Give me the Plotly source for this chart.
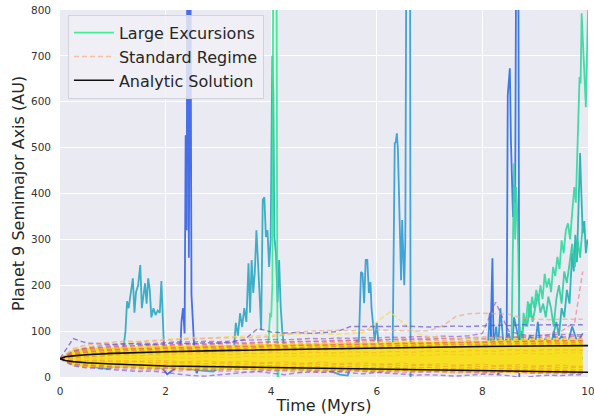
import plotly.graph_objects as go

# ---------------------------------------------------------------- time grids
T = [0, 0.25, 0.5, 0.75, 1, 1.25, 1.5, 1.75, 2, 2.25, 2.5, 2.75, 3, 3.25, 3.5,
     3.75, 4, 4.25, 4.5, 4.75, 5, 5.25, 5.5, 5.75, 6, 6.25, 6.5, 6.75, 7, 7.25,
     7.5, 7.75, 8, 8.25, 8.5, 8.75, 9, 9.25, 9.5, 9.75, 9.9]

# ------------------------------------------------ large-excursion trajectories
exc_a_t = [0, 0.3, 0.6, 0.9, 1.2, 1.5, 1.8, 1.95, 2.03, 2.1,
           2.2, 2.27, 2.3, 2.33, 2.36, 2.38, 2.4, 2.41, 2.43, 2.44,
           2.46, 2.47, 2.49, 2.51, 2.53, 2.56, 2.59, 2.62, 2.66, 2.75,
           3, 3.5, 4, 5, 6, 7, 8, 9, 9.9]
exc_a_v = [40, 32, 28, 25, 30, 26, 22, 18, 6, 12,
           20, 30, 120, 150, 95, 527, 320, 950, 950, 260,
           950, 950, 180, 130, 100, 25, 8, 20, 40, 35,
           30, 36, 33, 38, 35, 40, 36, 42, 40]

exc_b_t = [0, 0.3, 0.6, 0.9, 1.1, 1.2, 1.24, 1.27, 1.3, 1.34,
           1.38, 1.41, 1.44, 1.48, 1.52, 1.55, 1.58, 1.61, 1.64, 1.67,
           1.7, 1.73, 1.77, 1.81, 1.85, 1.89, 1.92, 1.94, 1.97, 2.05,
           2.3, 2.6, 2.9, 3.1, 3.25, 3.3, 3.33, 3.37, 3.41, 3.45,
           3.49, 3.53, 3.57, 3.6, 3.63, 3.66, 3.69, 3.72, 3.75, 3.78,
           3.81, 3.84, 3.87, 3.9, 3.93, 3.96, 3.99, 4.02, 4.04, 4.06,
           4.09, 4.12, 4.15, 4.18, 4.21, 4.25, 4.4, 5, 6, 7,
           8, 9, 9.9]
exc_b_v = [40, 30, 22, 18, 25, 60, 100, 165, 150, 178,
           215, 140, 185, 200, 244, 150, 175, 204, 160, 215,
           190, 130, 150, 135, 145, 140, 209, 150, 60, 35,
           20, 15, 12, 25, 40, 70, 118, 90, 139, 109,
           150, 120, 248, 140, 255, 183, 230, 320, 261, 180,
           102, 386, 392, 305, 320, 240, 300, 700, 620, 305,
           270, 163, 255, 153, 100, 60, 40, 35, 30, 45,
           40, 38, 42]

exc_g_t = [0, 0.5, 1, 1.5, 2, 2.5, 3, 3.5, 3.8, 3.9,
           3.95, 3.98, 4.0, 4.02, 4.04, 4.06, 4.08, 4.1, 4.12, 4.14,
           4.2, 4.5, 5, 6, 7, 8, 9, 9.9]
exc_g_v = [40, 45, 50, 48, 52, 55, 50, 53, 58, 62,
           80, 140, 130, 200, 950, 950, 950, 950, -30, 20,
           45, 50, 55, 52, 58, 55, 60, 58]

exc_c_t = [0, 0.5, 1, 1.5, 2, 2.5, 3, 3.5, 4, 4.5,
           5, 5.3, 5.45, 5.55, 5.62, 5.66, 5.7, 5.73, 5.76, 5.79,
           5.82, 5.85, 5.88, 5.9, 5.93, 5.96, 6.0, 6.04, 6.1, 6.2,
           6.3, 6.34, 6.36, 6.38, 6.4, 6.42, 6.44, 6.46, 6.48, 6.5,
           6.52, 6.54, 6.56, 6.6, 6.63, 6.64]
exc_c_v = [40, 35, 30, 28, 25, 22, 24, 20, 25, 22,
           18, 5, 3, 40, 80, 75, 229, 226, 161, 255,
           255, 183, 207, 150, 109, 80, 118, 60, 50, 45,
           55, 510, 512, 531, 495, 412, 349, 211, 342, 248,
           200, 300, 950, 950, 950, -30]

exc_d_t = [0, 0.5, 1, 1.5, 2, 2.5, 3, 3.5, 4, 4.5,
           5, 5.5, 6, 6.5, 7, 7.5, 8, 8.15, 8.19, 8.21,
           8.23, 8.3, 8.4, 8.46, 8.48, 8.5, 8.52, 8.54, 8.56, 8.58,
           8.6, 8.62, 8.64, 8.66, 8.68, 8.7]
exc_d_v = [40, 45, 42, 48, 50, 46, 52, 49, 55, 51,
           56, 53, 58, 55, 60, 57, 62, 65, 259, 70,
           60, 5, 45, 80, 614, 654, 673, 516, 386, 349,
           420, 380, 950, 950, 950, -30]

exc_h_t = [0, 2, 4, 6, 7.5, 8.1, 8.14, 8.17, 8.2, 8.26,
           8.3, 8.34, 8.4, 8.5, 8.56, 8.6, 8.7, 8.75, 8.8, 8.9,
           9.0, 9.05, 9.1, 9.2, 9.3, 9.35, 9.4, 9.5, 9.6, 9.7,
           9.8, 9.9]
exc_h_v = [40, 35, 38, 42, 50, 60, 140, 80, 60, 110,
           65, 150, 70, 95, 60, 130, 75, 100, 60, 90,
           70, 120, 65, 85, 60, 100, 70, 90, 65, 110,
           75, 95]

exc_e_t = [0, 1, 2, 3, 4, 5, 6, 7, 8, 8.4,
           8.55, 8.6, 8.62, 8.64, 8.66, 8.68, 8.7,
           8.74, 8.78, 8.82, 8.86, 8.9, 8.94, 8.98, 9.02, 9.06, 9.1,
           9.14, 9.18, 9.22, 9.26, 9.3, 9.34, 9.38, 9.42, 9.46, 9.5,
           9.54, 9.58, 9.62, 9.66, 9.7, 9.74, 9.77, 9.8, 9.82, 9.84,
           9.86, 9.88, 9.9, 9.92, 9.94, 9.96, 9.98, 10]
exc_e_v = [40, 45, 38, 50, 44, 55, 48, 52, 58, 62,
           60, 466, 300, 414, 357, 270, 120,
           60, 140, 110, 165, 130, 175, 150, 190, 165, 200,
           170, 225, 195, 215, 185, 240, 220, 262, 235, 298,
           270, 320, 335, 300, 360, 414, 380, 501, 560, 654,
           640, 793, 740, 690, 620, 588, 700, 800]

exc_e2_t = [0, 2, 4, 6, 8, 8.6, 8.7, 8.75, 8.8, 8.85,
            8.9, 8.95, 9.0, 9.05, 9.1, 9.15, 9.2, 9.25, 9.3, 9.35,
            9.4, 9.45, 9.5, 9.55, 9.6, 9.65, 9.7, 9.75, 9.8, 9.85,
            9.9]
exc_e2_v = [40, 45, 42, 48, 55, 60, 100, 90, 130, 110,
            160, 120, 150, 180, 140, 160, 130, 175, 150, 110,
            170, 200, 160, 230, 205, 250, 290, 240, 300, 260,
            330]

exc_f_t = [0, 1, 2, 3, 4, 5, 6, 7, 8, 9,
           9.3, 9.4, 9.45, 9.5, 9.55, 9.6, 9.65, 9.7, 9.73, 9.76,
           9.79, 9.82, 9.85, 9.87, 9.9, 9.93, 9.96, 9.99]
exc_f_v = [40, 38, 45, 42, 48, 44, 50, 47, 52, 55,
           70, 120, 90, 150, 130, 190, 160, 270, 230, 310,
           250, 386, 488, 414, 313, 340, 270, 300]

# ------------------------------------------------ standard-regime trajectories
band_hi = [41, 60, 63, 65, 65, 66, 67, 67, 68, 68, 69, 69, 70, 70, 71, 71, 72,
           72, 72, 73, 73, 74, 74, 75, 75, 76, 76, 77, 77, 78, 78, 79, 79, 80,
           80, 81, 81, 81, 82, 82, 82]
band_lo = [39, 24, 22, 21, 20, 19, 19, 18, 18, 17, 17, 16, 16, 16, 15, 15, 15,
           14, 14, 14, 13, 13, 13, 12, 12, 12, 11, 11, 11, 10, 10, 10, 9, 9, 9,
           8, 8, 8, 7, 7, 7]

std_purple_a = [40, 84, 74, 72, 71, 73, 72, 70, 73, 74, 72, 75, 74, 76, 82, 106,
                98, 96, 97, 95, 97, 99, 110, 110, 109, 110, 111, 110, 109, 110,
                111, 110, 112, 113, 112, 114, 113, 114, 113, 114, 114]
std_salmon = [40, 62, 70, 74, 76, 78, 77, 79, 80, 82, 83, 84, 85, 86, 85, 87,
              88, 92, 98, 100, 101, 102, 101, 102, 103, 102, 101, 100, 101, 112,
              132, 138, 139, 138, 137, 128, 126, 125, 126, 127, 126]
std_yellow = [40, 60, 66, 70, 72, 74, 78, 80, 82, 84, 86, 85, 87, 88, 89, 90,
              92, 93, 94, 95, 94, 93, 95, 97, 120, 142, 118, 95, 88, 86, 85, 84,
              86, 85, 84, 83, 82, 84, 83, 82, 82]
std_purple_b = [40, 58, 64, 68, 70, 72, 74, 73, 75, 77, 76, 78, 77, 79, 80, 81,
                82, 81, 83, 84, 83, 85, 84, 86, 85, 87, 86, 88, 87, 89, 88, 90,
                95, 163, 100, 92, 90, 91, 93, 92, 92]
std_magenta = [40, 56, 62, 65, 67, 68, 70, 71, 70, 72, 73, 72, 74, 75, 74, 76,
               77, 76, 78, 77, 79, 80, 79, 81, 80, 82, 81, 83, 82, 84, 83, 85,
               84, 86, 85, 87, 86, 88, 87, 89, 88]
std_pink = [40, 55, 60, 63, 66, 67, 68, 70, 69, 71, 72, 71, 73, 74, 73, 75, 76,
            75, 77, 78, 77, 79, 80, 81, 80, 82, 83, 82, 84, 85, 84, 86, 87, 88,
            87, 89, 90, 92, 100, 120, 230]
std_orange_a = [40, 54, 58, 61, 63, 65, 66, 65, 67, 68, 67, 69, 70, 69, 71, 72,
                71, 73, 74, 73, 75, 76, 75, 77, 78, 77, 79, 78, 80, 79, 81, 80,
                82, 81, 83, 82, 84, 83, 85, 84, 84]
std_orange_b = [40, 52, 56, 59, 60, 62, 61, 63, 64, 63, 65, 66, 65, 67, 66, 68,
                69, 68, 70, 69, 71, 70, 72, 71, 73, 72, 74, 73, 75, 74, 76, 75,
                77, 76, 78, 77, 79, 78, 80, 79, 79]
std_red_a = [40, 50, 54, 57, 59, 60, 62, 61, 63, 64, 63, 65, 66, 65, 67, 66, 68,
             67, 69, 70, 69, 71, 70, 72, 71, 73, 72, 74, 73, 75, 74, 76, 75, 77,
             76, 78, 77, 79, 78, 80, 80]
std_red_b = [40, 46, 50, 53, 55, 57, 58, 59, 58, 60, 61, 60, 62, 61, 63, 64, 63,
             65, 64, 66, 65, 67, 66, 68, 67, 69, 68, 70, 69, 71, 70, 72, 71, 73,
             72, 74, 73, 75, 74, 76, 76]
std_orange_c = [40, 42, 44, 47, 49, 50, 52, 51, 53, 54, 53, 55, 56, 55, 57, 58,
                57, 59, 58, 60, 59, 61, 60, 62, 61, 63, 62, 64, 63, 65, 64, 66,
                65, 67, 66, 68, 67, 69, 68, 70, 70]
std_orange_d = [40, 38, 36, 37, 35, 36, 34, 35, 36, 33, 34, 35, 32, 33, 34, 31,
                32, 33, 30, 31, 32, 29, 30, 31, 28, 29, 30, 27, 28, 29, 26, 27,
                28, 25, 26, 27, 24, 25, 26, 23, 23]
std_low_purple = [40, 24, 20, 18, 16, 14, 12, 13, 10, 6, 3, 2, 5, 8, 10, 12, 8,
                  5, 9, 11, 10, 12, 9, 7, 10, 8, 6, 4, 5, 3, 2, 4, 6, 5, 3, -2,
                  2, 4, 3, 5, 5]
std_low_pink = [40, 26, 22, 20, 18, 17, 15, 16, 14, 13, 15, 14, 12, 13, 11, 12,
                14, 13, 11, 12, 10, 11, 13, 12, 10, 11, 9, 10, 12, 11, 9, 10, 8,
                9, 11, 10, 8, 9, 7, 8, 8]
std_low_magenta = [40, 28, 25, 23, 21, 20, 19, 18, 19, 17, 16, 17, 15, 16, 17,
                   15, 14, 15, 16, 14, 13, 14, 15, 13, 12, 13, 14, 12, 11, 12, 13,
                   11, 10, 11, 12, 10, 9, 10, 11, 9, 9]
std_low_orange = [40, 30, 27, 25, 24, 23, 22, 21, 22, 20, 19, 20, 18, 19, 20,
                  18, 17, 18, 19, 17, 16, 17, 18, 16, 15, 16, 17, 15, 14, 15, 16,
                  14, 13, 14, 15, 13, 12, 13, 14, 12, 12]
std_mid_a = [40, 48, 50, 52, 54, 53, 55, 56, 55, 57, 58, 57, 59, 60, 59, 61, 60,
             62, 61, 63, 62, 64, 63, 65, 64, 66, 65, 67, 66, 68, 67, 69, 68, 70,
             69, 71, 70, 72, 71, 73, 73]
std_mid_b = [40, 44, 46, 45, 47, 48, 46, 49, 48, 50, 49, 51, 50, 49, 52, 51, 53,
             52, 51, 54, 53, 52, 55, 54, 53, 56, 55, 54, 57, 56, 55, 58, 57, 56,
             59, 58, 57, 60, 59, 58, 58]
std_mid_c = [40, 36, 34, 35, 33, 32, 34, 31, 32, 30, 31, 29, 30, 31, 28, 29, 30,
             27, 28, 29, 26, 27, 28, 25, 26, 27, 24, 25, 26, 23, 24, 25, 22, 23,
             24, 21, 22, 23, 20, 21, 21]
std_mid_d = [40, 40, 41, 39, 40, 42, 41, 40, 43, 42, 41, 44, 43, 42, 45, 44, 43,
             46, 45, 44, 47, 46, 45, 48, 47, 46, 49, 48, 47, 50, 49, 48, 51, 50,
             49, 52, 51, 50, 53, 52, 52]
std_mid_e = [40, 32, 30, 29, 28, 27, 28, 26, 27, 25, 26, 24, 25, 26, 23, 24, 25,
             22, 23, 24, 21, 22, 23, 20, 21, 22, 19, 20, 21, 18, 19, 20, 17, 18,
             19, 16, 17, 18, 15, 16, 16]

# ---------------------------------------------------------- analytic envelope
ana_t = [0, 0.1, 0.25, 0.5, 1, 1.5, 2, 3, 4, 5, 6, 7, 8, 9, 10]
ana_upper = [40, 44, 46, 48.5, 51.5, 53.5, 55, 57.5, 59.5, 61.5, 63, 65, 66.5,
             67.5, 68.5]
ana_lower = [40, 36, 33.5, 31, 28.5, 26.5, 24, 22.5, 21, 19.5, 18, 16, 14.5,
             12.5, 10.5]

fig = go.Figure()

# large excursions (drawn first, underneath the dense band)
excursions = [
    (exc_b_t, exc_b_v, "#2AA8C2", False),
    (exc_a_t, exc_a_v, "#3562E6", False),
    (exc_c_t, exc_c_v, "#2D9DD3", False),
    (exc_h_t, exc_h_v, "#2A8ED4", False),
    (exc_d_t, exc_d_v, "#2C6EE0", False),
    (exc_f_t, exc_f_v, "#20B0B0", False),
    (exc_e2_t, exc_e2_v, "#2FCDA2", False),
    (exc_e_t, exc_e_v, "#33D9A0", False),
    (exc_g_t, exc_g_v, "#30EC8E", True),
]
for tt, vv, col, leg in excursions:
    fig.add_trace(go.Scatter(
        x=tt, y=vv, mode="lines", line=dict(color=col, width=1.8),
        opacity=0.9, name="Large Excursions", legendgroup="exc",
        showlegend=leg, legendrank=1, hoverinfo="skip"))

# dense standard-regime band
fig.add_trace(go.Scatter(x=T, y=band_lo, mode="lines", line=dict(width=0),
                         showlegend=False, hoverinfo="skip"))
fig.add_trace(go.Scatter(x=T, y=band_hi, mode="lines", line=dict(width=0),
                         fill="tonexty", fillcolor="#F7DF22",
                         showlegend=False, hoverinfo="skip"))

DASH = "5px,3px"
standard = [
    (std_mid_a, "rgba(240,140,40,0.50)", 1.2),
    (std_mid_b, "rgba(245,160,40,0.45)", 1.2),
    (std_mid_c, "rgba(240,140,40,0.45)", 1.2),
    (std_mid_d, "rgba(250,190,40,0.55)", 1.2),
    (std_mid_e, "rgba(235,120,60,0.45)", 1.2),
    (std_orange_c, "rgba(240,130,50,0.50)", 1.2),
    (std_orange_d, "rgba(240,150,50,0.45)", 1.2),
    (std_red_b, "rgba(225,90,70,0.50)", 1.3),
    (std_red_a, "rgba(215,75,90,0.55)", 1.3),
    (std_orange_a, "rgba(245,150,60,0.60)", 1.4),
    (std_orange_b, "rgba(235,110,80,0.55)", 1.4),
    (std_magenta, "rgba(185,60,150,0.55)", 1.4),
    (std_pink, "rgba(225,100,120,0.55)", 1.4),
    (std_purple_b, "rgba(140,70,190,0.60)", 1.4),
    (std_yellow, "rgba(245,220,70,0.75)", 1.4),
    (std_purple_a, "rgba(100,80,200,0.70)", 1.4),
    (std_low_orange, "rgba(240,130,70,0.55)", 1.4),
    (std_low_magenta, "rgba(190,70,150,0.55)", 1.4),
    (std_low_pink, "rgba(225,110,130,0.55)", 1.4),
    (std_low_purple, "rgba(120,70,200,0.60)", 1.4),
]
for vv, col, w in standard:
    fig.add_trace(go.Scatter(
        x=T, y=vv, mode="lines", line=dict(color=col, width=w, dash=DASH),
        name="Standard Regime", legendgroup="std", showlegend=False,
        hoverinfo="skip"))
fig.add_trace(go.Scatter(
    x=T, y=std_salmon, mode="lines",
    line=dict(color="rgba(240,165,125,0.65)", width=1.5, dash=DASH),
    name="Standard Regime", legendgroup="std", showlegend=True, legendrank=2,
    hoverinfo="skip"))

# analytic solution
fig.add_trace(go.Scatter(x=ana_t, y=ana_upper, mode="lines",
                         line=dict(color="#111111", width=1.6),
                         name="Analytic Solution", legendgroup="ana",
                         showlegend=True, legendrank=3, hoverinfo="skip"))
fig.add_trace(go.Scatter(x=ana_t, y=ana_lower, mode="lines",
                         line=dict(color="#111111", width=1.6),
                         name="Analytic Solution", legendgroup="ana",
                         showlegend=False, hoverinfo="skip"))

fig.update_layout(
    width=594, height=416,
    margin=dict(l=60, r=6, t=10, b=39),
    paper_bgcolor="white", plot_bgcolor="#EAEAF2",
    font=dict(family="DejaVu Sans", color="#262626"),
    legend=dict(x=0.015, y=0.987, xanchor="left", yanchor="top",
                bgcolor="rgba(240,240,245,0.82)", bordercolor="#D2D2DA",
                borderwidth=1, font=dict(size=16, color="#262626"),
                itemwidth=40, tracegroupgap=0),
)
fig.update_xaxes(range=[0, 10], tickvals=[0, 2, 4, 6, 8, 10],
                 showgrid=True, gridcolor="white", gridwidth=1.2,
                 zeroline=False, showline=False, ticks="",
                 tickfont=dict(size=10.5, color="#333333"),
                 ticklabelstandoff=6, ticklabeloverflow="allow",
                 automargin=False,
                 title=dict(text="Time (Myrs)", font=dict(size=16), standoff=4))
fig.update_yaxes(range=[0, 800], tickvals=[0, 100, 200, 300, 400, 500, 600, 700, 800],
                 showgrid=True, gridcolor="white", gridwidth=1.2,
                 zeroline=False, showline=False, ticks="",
                 tickfont=dict(size=10.5, color="#333333"),
                 ticklabelstandoff=8, automargin=False,
                 title=dict(text="Planet 9 Semimajor Axis (AU)", font=dict(size=16),
                            standoff=2))

fig.write_html("out.html")
